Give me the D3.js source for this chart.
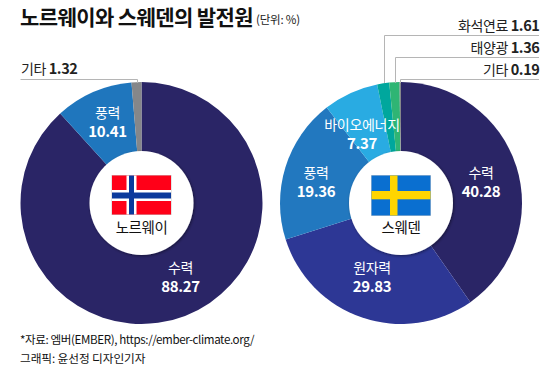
<!DOCTYPE html>
<html>
<head>
<meta charset="utf-8">
<script src="https://cdn.jsdelivr.net/npm/d3@7"></script>
<style>
  html, body { margin: 0; padding: 0; background: #fff; }
  text { font-family: "Noto Sans CJK KR", sans-serif; }
</style>
</head>
<body>
<div id="chart"></div>
<script>
// values (%)
var norwayNames = ["수력", "풍력", "기타"];
var norwayValues = [88.27, 10.41, 1.32];
var swedenNames = ["수력", "원자력", "풍력", "바이오에너지", "화석연료", "태양광", "기타"];
var swedenValues = [40.28, 29.83, 19.36, 7.37, 1.61, 1.36, 0.19];

var norwayColors = ["#2a2566", "#1f76bd", "#85878a"];
var swedenColors = ["#2a2566", "#2d3795", "#2278bf", "#29abe2", "#00a79d", "#2fb574", "#85878a"];

var width = 560, height = 370;
var radius = 121, holeRadius = 52;

var svg = d3.select("#chart").append("svg")
    .attr("width", width)
    .attr("height", height)
    .style("display", "block");

var defs = svg.append("defs");
var shadow = defs.append("filter").attr("id", "holeShadow")
    .attr("x", "-20%").attr("y", "-20%").attr("width", "140%").attr("height", "140%");
shadow.append("feDropShadow")
    .attr("dx", 1).attr("dy", 1).attr("stdDeviation", 1.5)
    .attr("flood-color", "#000").attr("flood-opacity", 0.45);

// title
svg.append("text")
    .attr("x", 20).attr("y", 25)
    .attr("font-size", 21).attr("font-weight", 700)
    .attr("letter-spacing", -0.6)
    .attr("fill", "#111")
    .text("노르웨이와 스웨덴의 발전원");
svg.append("text")
    .attr("x", 256).attr("y", 24)
    .attr("font-size", 11.5)
    .attr("letter-spacing", -0.2)
    .attr("fill", "#222")
    .text("(단위: %)");

function drawPie(cx, cy, names, values, colors, labelPos) {
    var g = svg.append("g").attr("transform", "translate(" + cx + "," + cy + ")");
    var pie = d3.pie().sort(null).value(function(d) { return d; });
    var arc = d3.arc().innerRadius(0).outerRadius(radius);
    var slices = pie(values);

    g.selectAll("path.slice")
        .data(slices)
        .enter().append("path")
        .attr("class", "slice")
        .attr("d", arc)
        .attr("fill", function(d, i) { return colors[i]; });

    // white labels inside the slices
    labelPos.forEach(function(p) {
        var t = g.append("text")
            .attr("text-anchor", "middle")
            .attr("fill", "#fff");
        t.append("tspan")
            .attr("x", p.x).attr("y", p.y)
            .attr("font-size", 14)
            .attr("letter-spacing", -0.3)
            .text(names[p.i]);
        t.append("tspan")
            .attr("x", p.x).attr("y", p.y + 19)
            .attr("font-size", 15).attr("font-weight", 700)
            .attr("letter-spacing", -0.4)
            .text(values[p.i].toFixed(2));
    });

    g.append("circle")
        .attr("r", holeRadius)
        .attr("fill", "#fff")
        .attr("filter", "url(#holeShadow)");
    return g;
}

var gNorway = drawPie(141.5, 203, norwayNames, norwayValues, norwayColors, [
    { i: 0, x: 39, y: 70 },
    { i: 1, x: -34, y: -85 }
]);
var gSweden = drawPie(401, 203, swedenNames, swedenValues, swedenColors, [
    { i: 0, x: 80, y: -25 },
    { i: 1, x: -29, y: 70 },
    { i: 2, x: -85, y: -25 },
    { i: 3, x: -39, y: -73 }
]);

// Norway flag
function rect(g, x, y, w, h, fill) {
    g.append("rect").attr("x", x).attr("y", y).attr("width", w).attr("height", h).attr("fill", fill);
}
rect(gNorway, -30, -28, 60, 40, "#c9c9c9");
rect(gNorway, -29.5, -27.5, 59, 39, "#ff0018");
rect(gNorway, -15, -27.5, 10, 39, "#fff");
rect(gNorway, -29.5, -13, 59, 11, "#fff");
rect(gNorway, -12.5, -27.5, 5, 39, "#0b3a9c");
rect(gNorway, -29.5, -10.5, 59, 6, "#0b3a9c");

// Sweden flag
rect(gSweden, -30, -28, 60, 41, "#cfcfcf");
rect(gSweden, -29.5, -27.5, 59, 40, "#0a6fd0");
rect(gSweden, -11, -27.5, 7.5, 40, "#ffd500");
rect(gSweden, -29.5, -12, 59, 8.3, "#ffd500");

function countryName(g, name) {
    g.append("text")
        .attr("text-anchor", "middle")
        .attr("y", 30)
        .attr("font-size", 14.5)
        .attr("letter-spacing", -0.4)
        .attr("fill", "#111")
        .text(name);
}
countryName(gNorway, "노르웨이");
countryName(gSweden, "스웨덴");

// outside labels with leader lines
function outsideLabel(name, value, x, y, anchor) {
    var t = svg.append("text")
        .attr("x", x).attr("y", y)
        .attr("text-anchor", anchor)
        .attr("fill", "#222");
    t.append("tspan").attr("font-size", 14).attr("letter-spacing", -0.4).text(name + " ");
    t.append("tspan").attr("font-size", 14.5).attr("font-weight", 700).attr("letter-spacing", -0.4)
        .text(value.toFixed(2));
}
function leader(points) {
    svg.append("path")
        .attr("d", d3.line()(points))
        .attr("fill", "none")
        .attr("stroke", "#b5b5b5")
        .attr("stroke-width", 1);
}
outsideLabel(norwayNames[2], norwayValues[2], 21, 74, "start");
leader([[20.5, 79.5], [137.5, 79.5], [137.5, 83]]);

outsideLabel(swedenNames[4], swedenValues[4], 539.5, 31, "end");
leader([[539, 35.5], [384.5, 35.5], [384.5, 83]]);
outsideLabel(swedenNames[5], swedenValues[5], 539.5, 53, "end");
leader([[539, 57.5], [395.5, 57.5], [395.5, 83]]);
outsideLabel(swedenNames[6], swedenValues[6], 539.5, 75, "end");
leader([[539, 79.5], [400.5, 79.5], [400.5, 83]]);

// source lines
svg.append("text")
    .attr("x", 20).attr("y", 344)
    .attr("font-size", 11.6).attr("letter-spacing", -0.4).attr("fill", "#111")
    .text("*자료: 엠버(EMBER), https://ember-climate.org/");
svg.append("text")
    .attr("x", 20).attr("y", 363)
    .attr("font-size", 11.7).attr("letter-spacing", -0.1).attr("fill", "#111")
    .text("그래픽: 윤선정 디자인기자");
</script>
</body>
</html>
